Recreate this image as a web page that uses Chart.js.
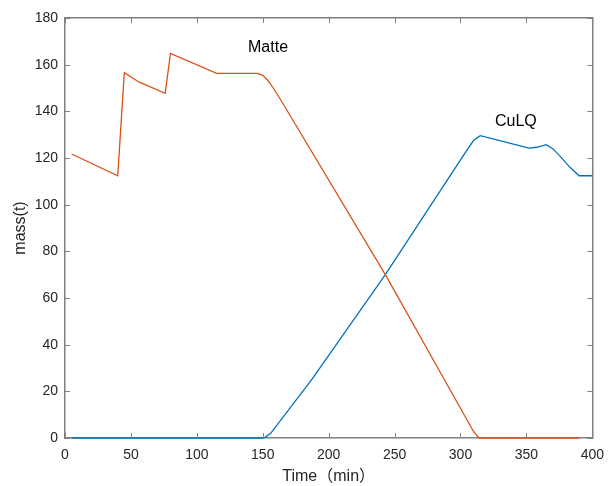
<!DOCTYPE html>
<html>
<head>
  <meta charset="UTF-8">
  <title>Matte / CuLQ</title>
  <script src="https://cdn.jsdelivr.net/npm/chart.js"></script>
  <style>
    body { margin: 0; background: #fff; }
    #wrap { width: 613px; height: 486px; }
  </style>
</head>
<body>
  <div id="wrap"><canvas id="chart" width="613" height="486"></canvas></div>

  <script>
  // 时间 (min) 与质量 (t)
  const matteTime = [5, 40, 45, 56, 76, 80, 115, 146, 150, 154, 158, 163, 243, 310, 314, 390];
  const matteMass = [121.7, 112.4, 156.6, 152.6, 147.7, 164.8, 156.3, 156.3, 155.4, 153.2, 150, 145.5, 70, 2.7, 0, 0];

  const cuTime = [5, 150, 152, 156, 187, 243, 305, 310, 315, 352, 358, 365, 370, 376, 383, 390, 400];
  const cuMass = [0, 0, 0.4, 2, 24.9, 70, 123.5, 127.6, 129.6, 124.2, 124.6, 125.7, 124, 120.5, 116, 112.4, 112.4];

  const xTicks = [0, 50, 100, 150, 200, 250, 300, 350, 400];
  const yTicks = [0, 20, 40, 60, 80, 100, 120, 140, 160, 180];

  const labels = [
    { text: 'Matte', x: 154, y: 167.5 },
    { text: 'CuLQ', x: 342, y: 135.5 }
  ];

  const toPts = (xs, ys) => xs.map((x, i) => ({ x: x, y: ys[i] }));

  const axisColor = '#808080';
  const textColor = '#262626';

  // MATLAB 风格：刻度朝内 + 文字标注
  const matlabLook = {
    id: 'matlabLook',
    afterDraw(chart) {
      const { ctx, chartArea: a, scales } = chart;
      const len = 5;
      ctx.save();
      ctx.strokeStyle = axisColor;
      ctx.lineWidth = 1;
      ctx.beginPath();
      xTicks.forEach(v => {
        const px = Math.round(scales.x.getPixelForValue(v)) + 0.5;
        ctx.moveTo(px, a.bottom); ctx.lineTo(px, a.bottom - len);
        ctx.moveTo(px, a.top); ctx.lineTo(px, a.top + len);
      });
      yTicks.forEach(v => {
        const py = Math.round(scales.y.getPixelForValue(v)) + 0.5;
        ctx.moveTo(a.left, py); ctx.lineTo(a.left + len, py);
        ctx.moveTo(a.right, py); ctx.lineTo(a.right - len, py);
      });
      ctx.stroke();

      ctx.fillStyle = '#000';
      ctx.font = '16px "Liberation Sans", Arial, sans-serif';
      ctx.textAlign = 'center';
      ctx.textBaseline = 'middle';
      labels.forEach(l => {
        ctx.fillText(l.text, scales.x.getPixelForValue(l.x), scales.y.getPixelForValue(l.y));
      });
      ctx.restore();
    }
  };

  const tickFont = { family: '"Liberation Sans", Arial, sans-serif', size: 14 };
  const titleFont = { family: '"Liberation Sans", "Noto Sans CJK SC", Arial, sans-serif', size: 16 };

  new Chart(document.getElementById('chart'), {
    type: 'line',
    data: {
      datasets: [
        {
          label: 'Matte',
          data: toPts(matteTime, matteMass),
          borderColor: '#D95319',
          borderWidth: 1.3,
          pointRadius: 0,
          tension: 0,
          fill: false,
          clip: 4
        },
        {
          label: 'CuLQ',
          data: toPts(cuTime, cuMass),
          borderColor: '#0072BD',
          borderWidth: 1.3,
          pointRadius: 0,
          tension: 0,
          fill: false,
          clip: 4
        }
      ]
    },
    options: {
      responsive: false,
      animation: false,
      layout: { padding: 0 },
      plugins: {
        legend: { display: false },
        tooltip: { enabled: false }
      },
      scales: {
        x: {
          type: 'linear',
          position: 'bottom',
          min: 0, max: 400,
          afterBuildTicks: s => { s.ticks = xTicks.map(v => ({ value: v })); },
          grid: { display: false, drawTicks: false },
          border: { display: true, color: axisColor, width: 1.5 },
          ticks: { color: textColor, font: tickFont, padding: 9, maxRotation: 0 },
          title: { display: true, text: 'Time（min）', color: textColor, font: titleFont, padding: { top: 0, bottom: 0 } },
          afterFit: s => { s.height = 48; }
        },
        x2: {
          type: 'linear',
          position: 'top',
          min: 0, max: 400,
          grid: { display: false, drawTicks: false },
          border: { display: true, color: axisColor, width: 1.5 },
          ticks: { display: false },
          afterFit: s => { s.height = 18; }
        },
        y: {
          type: 'linear',
          position: 'left',
          min: 0, max: 180,
          afterBuildTicks: s => { s.ticks = yTicks.map(v => ({ value: v })); },
          grid: { display: false, drawTicks: false },
          border: { display: true, color: axisColor, width: 1.5 },
          ticks: { color: textColor, font: tickFont, padding: 7 },
          title: { display: true, text: 'mass(t)', color: textColor, font: titleFont, padding: { top: 11, bottom: 0 } },
          afterFit: s => { s.width = 65; }
        },
        y2: {
          type: 'linear',
          position: 'right',
          min: 0, max: 180,
          grid: { display: false, drawTicks: false },
          border: { display: true, color: axisColor, width: 1.5 },
          ticks: { display: false },
          afterFit: s => { s.width = 15; }
        }
      }
    },
    plugins: [matlabLook]
  });
  </script>
</body>
</html>
